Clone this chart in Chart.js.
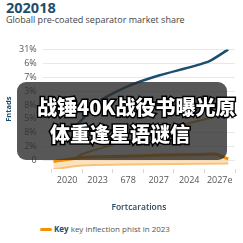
<!DOCTYPE html>
<html>
<head>
<meta charset="utf-8">
<script src="https://cdn.jsdelivr.net/npm/chart.js@4"></script>
<style>
  body { margin: 0; width: 243px; height: 243px; background: #fff; overflow: hidden; position: relative; font-family: "Open Sans", sans-serif; }
  #titulo { position: absolute; left: 6px; top: -2px; font-size: 14.5px; font-weight: 700; color: #1d4e6e; }
  #subtitulo { position: absolute; left: 6px; top: 13px; font-size: 9px; color: #444; white-space: nowrap; }
  #caja { position: absolute; left: 0; top: 38px; width: 243px; height: 181px; }
  #velo { position: absolute; left: 17px; top: 82px; width: 210px; height: 78px; background: rgba(45, 45, 45, 0.8); border-radius: 9px; }
  .cap { position: absolute; font-family: "Noto Sans CJK SC", sans-serif; font-weight: 900; font-size: 20px; line-height: 1; color: #fff; white-space: nowrap;
         -webkit-text-stroke: 3px #000; paint-order: stroke fill; }
  #leyenda { position: absolute; left: 40px; top: 223px; font-size: 8px; color: #555; white-space: nowrap; }
  #leyenda i { display: inline-block; width: 12px; height: 3px; border-radius: 2px; background: #f39200; vertical-align: middle; margin-right: 2px; }
  #leyenda b { color: #1d4e6e; }
</style>
</head>
<body>
<div id="titulo">202018</div>
<div id="subtitulo">Globall pre-coated separator market share</div>
<div id="caja"><canvas id="grafica"></canvas></div>
<div id="velo"></div>
<div class="cap" style="left:37px; top:97px;">战锤40K战役书曝光原</div>
<div class="cap" style="left:50px; top:124px;">体重逢星语谜信</div>
<div id="leyenda"><i></i><b>Key</b> key inflection phist in 2023</div>

<script>
// etiquetas de ejes
const etiquetasX = ['2020', '2023', '678', '2027', '2024', '2027e'];
const etiquetasY = ['0', '2%', '8%', '5%', '8%', '3%', '7%', '6%', '31%'];

// serie azul
const azulX = [0.08, 0.71, 1.66, 2.52, 3.53, 5.11, 5.78];
const azulY = [1.52, 2.34, 4.41, 5.38, 6.14, 7.10, 8.0];

// serie naranja (borde superior de la banda)
const naranjaX = [0.05, 1.09, 2.36, 3.62, 4.89, 5.36, 5.78];
const naranjaY = [-0.05, 0.25, 0.32, 0.40, 0.45, 0.47, 0.12];

// borde inferior de la banda
const bandaX = [0.05, 1.0, 2.36, 5.78];
const bandaY = [-0.62, -0.34, -0.28, -0.2];

// serie marron
const marronX = [0.8, 1.0, 2.04, 3.09, 4.48, 5.78];
const marronY = [0.2, 0.48, 1.17, 1.79, 2.69, 3.38];

const puntos = (xs, ys) => xs.map((x, i) => ({ x: x, y: ys[i] }));

new Chart(document.getElementById('grafica').getContext('2d'), {
  type: 'line',
  data: {
    datasets: [
      {
        data: puntos(naranjaX, naranjaY),
        borderColor: '#f39200',
        borderWidth: 3,
        pointRadius: 0,
        tension: 0.3,
        fill: false
      },
      {
        data: puntos(bandaX, bandaY),
        borderColor: '#f8c27a',
        borderWidth: 2,
        backgroundColor: 'rgba(252, 214, 166, 0.7)',
        pointRadius: 0,
        tension: 0.3,
        fill: '-1'
      },
      {
        data: puntos(marronX, marronY),
        borderColor: '#e58a14',
        borderWidth: 2,
        pointRadius: 0,
        tension: 0.2,
        fill: false
      },
      {
        data: puntos(azulX, azulY),
        borderColor: '#1a4d70',
        borderWidth: 2.5,
        pointRadius: 0,
        tension: 0.2,
        fill: false
      }
    ]
  },
  options: {
    responsive: true,
    maintainAspectRatio: false,
    animation: false,
    layout: { padding: { left: 4, right: 8, top: 6, bottom: 2 } },
    plugins: { legend: { display: false }, tooltip: { enabled: false } },
    scales: {
      x: {
        type: 'linear',
        min: -0.3,
        max: 6,
        afterBuildTicks: s => { s.ticks = etiquetasX.map((l, i) => ({ value: i + 0.5 })); },
        ticks: {
          autoSkip: false,
          maxRotation: 0,
          padding: 2,
          color: '#555',
          font: { size: 9, family: 'Open Sans' },
          callback: (v, i) => etiquetasX[i]
        },
        grid: { offset: true, drawOnChartArea: false, tickLength: 4, color: '#d6d6d6' },
        border: { display: false },
        title: {
          display: true,
          text: 'Fortcarations',
          color: '#2a4a63',
          font: { size: 8.5, weight: '600', family: 'Open Sans' },
          padding: { top: 15, bottom: 4 }
        }
      },
      y: {
        min: -0.6,
        max: 8,
        afterBuildTicks: s => { s.ticks = etiquetasY.map((l, i) => ({ value: i })); },
        ticks: {
          autoSkip: false,
          padding: 6,
          color: '#555',
          font: { size: 9, family: 'Open Sans' },
          callback: (v, i) => etiquetasY[i]
        },
        grid: { color: '#e8e8e8', drawTicks: false },
        border: { display: false },
        title: {
          display: true,
          text: 'Fntads',
          color: '#1d4e6e',
          font: { size: 7.5, weight: 'bold', family: 'Open Sans' },
          padding: 0
        }
      }
    }
  }
});
</script>
</body>
</html>
